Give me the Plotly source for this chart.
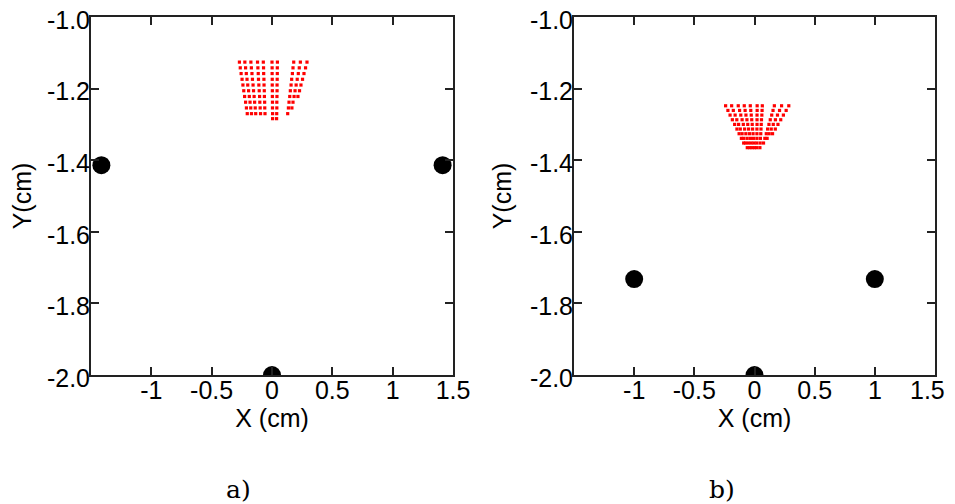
import plotly.graph_objects as go
from plotly.subplots import make_subplots

# ---------------- data (cm) ----------------
# fixed black markers
BLACK_A_X = [-1.414, 1.414, 0.0]
BLACK_A_Y = [-1.414, -1.414, -2.0]
BLACK_B_X = [-1.0, 1.0, 0.0]
BLACK_B_Y = [-1.732, -1.732, -2.0]

# panel a) red point cloud: row levels (y) and per-column x positions
ROWS_A = [-1.126, -1.142, -1.158, -1.174, -1.190, -1.206, -1.222, -1.238, -1.254, -1.270, -1.284]
COLS_A = [
    [-0.270, -0.263, -0.256, -0.248, -0.241, -0.234, -0.227, -0.219, -0.212, -0.205],
    [-0.225, -0.219, -0.213, -0.207, -0.201, -0.194, -0.188, -0.182, -0.176, -0.170],
    [-0.175, -0.171, -0.166, -0.162, -0.157, -0.153, -0.148, -0.144, -0.139, -0.135],
    [-0.120, -0.117, -0.114, -0.112, -0.109, -0.106, -0.103, -0.101, -0.098, -0.095],
    [-0.072, -0.070, -0.069, -0.067, -0.066, -0.064, -0.063, -0.061, -0.060, -0.058],
    [0.000, 0.001, 0.001, 0.002, 0.002, 0.003, 0.003, 0.004, 0.004, 0.005, 0.005],
    [0.045, 0.044, 0.044, 0.043, 0.042, 0.042, 0.041, 0.040, 0.040, 0.039, 0.038],
    [0.180, 0.174, 0.169, 0.163, 0.158, 0.152, 0.147, 0.141, 0.136, 0.130],
    [0.235, 0.226, 0.218, 0.209, 0.200, 0.191, 0.183, 0.174, 0.165],
    [0.290, 0.278, 0.265, 0.253, 0.240, 0.228, 0.215],
]

# panel b) red point cloud
ROWS_B = [-1.248, -1.261, -1.274, -1.287, -1.300, -1.313, -1.326, -1.339, -1.352, -1.365]
COLS_B = [
    [-0.240, -0.221, -0.203, -0.184, -0.165, -0.146, -0.128, -0.109, -0.090],
    [-0.190, -0.176, -0.161, -0.147, -0.132, -0.118, -0.103, -0.089, -0.074, -0.060],
    [-0.135, -0.124, -0.114, -0.103, -0.093, -0.082, -0.072, -0.061, -0.051, -0.040],
    [-0.085, -0.078, -0.071, -0.063, -0.056, -0.049, -0.042, -0.034, -0.027, -0.020],
    [-0.035, -0.031, -0.027, -0.023, -0.019, -0.016, -0.012, -0.008, -0.004, 0.000],
    [0.022, 0.022, 0.021, 0.021, 0.021, 0.020, 0.020, 0.020, 0.019, 0.019],
    [0.065, 0.063, 0.061, 0.058, 0.056, 0.054, 0.052, 0.049, 0.047, 0.045],
    [0.165, 0.154, 0.143, 0.131, 0.120, 0.109, 0.098, 0.086, 0.075],
    [0.225, 0.208, 0.191, 0.174, 0.156, 0.139, 0.122, 0.105],
    [0.285, 0.263, 0.240, 0.218, 0.195, 0.173, 0.150],
]

X_TICKS = [-1, -0.5, 0, 0.5, 1, 1.5]
X_TICKTEXT = ["-1", "-0.5", "0", "0.5", "1", "1.5"]
Y_TICKS = [-2.0, -1.8, -1.6, -1.4, -1.2, -1.0]
Y_TICKTEXT = ["-2.0", "-1.8", "-1.6", "-1.4", "-1.2", "-1.0"]
CAPTIONS = ["a)", "b)"]


def flatten(rows, cols):
    xs, ys = [], []
    for col in cols:
        xs.extend(col)
        ys.extend(rows[:len(col)])
    return xs, ys


RED_A_X, RED_A_Y = flatten(ROWS_A, COLS_A)
RED_B_X, RED_B_Y = flatten(ROWS_B, COLS_B)

# ---------------- figure ----------------
OFF = 8  # page body margin: figure is drawn 8px right/down of the window corner
W, H = 955 - 2 * OFF, 504 - OFF


def px_x(px):
    return (px - OFF) / W


def px_y(py):
    return (H - (py - OFF)) / H


fig = make_subplots(rows=1, cols=2)

panels = [
    (RED_A_X, RED_A_Y, BLACK_A_X, BLACK_A_Y),
    (RED_B_X, RED_B_Y, BLACK_B_X, BLACK_B_Y),
]
for i, (rx, ry, bx, by) in enumerate(panels, start=1):
    fig.add_trace(go.Scatter(x=rx, y=ry, mode="markers",
                             marker=dict(symbol="square", size=3.2, color="#ff0000",
                                         line=dict(width=0)),
                             showlegend=False, hoverinfo="skip"), row=1, col=i)
    fig.add_trace(go.Scatter(x=bx, y=by, mode="markers",
                             marker=dict(symbol="circle", size=18, color="#000000",
                                         line=dict(width=0)),
                             showlegend=False), row=1, col=i)

font_tick = dict(family="Liberation Sans", size=25, color="#000000")
# pixel layout of the two plot areas (window pixels)
x_domains = [(px_x(91), px_x(453)), (px_x(574), px_x(935))]
y_domain = (px_y(375), px_y(17))

for i in range(2):
    xa = "xaxis" if i == 0 else "xaxis2"
    ya = "yaxis" if i == 0 else "yaxis2"
    # the right panel's last label sits at the page edge; it is drawn as an annotation
    ttext = list(X_TICKTEXT) if i == 0 else X_TICKTEXT[:-1] + [""]
    fig.layout[xa].update(
        domain=x_domains[i], range=[-1.5, 1.5], tickvals=X_TICKS, ticktext=ttext,
        ticks="inside", ticklen=8, tickwidth=1.5, tickcolor="#222222",
        showline=True, linewidth=2, linecolor="#222222", mirror="ticks",
        showgrid=False, zeroline=False, tickfont=font_tick, automargin=False,
        ticklabeloverflow="allow", ticklabelstandoff=-8,
        title=dict(text="X (cm)", font=font_tick, standoff=4),
    )
    fig.layout[ya].update(
        domain=y_domain, range=[-2.0, -1.0], tickvals=Y_TICKS, ticktext=Y_TICKTEXT,
        ticks="inside", ticklen=8, tickwidth=1.5, tickcolor="#222222",
        showline=True, linewidth=2, linecolor="#222222", mirror="ticks",
        showgrid=False, zeroline=False, tickfont=font_tick, automargin=False,
        ticklabeloverflow="allow", ticklabelshift=3, ticklabelstandoff=-6,
        title=dict(text="Y(cm)", font=font_tick, standoff=11),
    )

# last x label of panel b, kept inside the visible page
fig.add_annotation(x=1.0, xref="x2 domain", xanchor="right", xshift=12,
                   y=px_y(390), yref="paper", yanchor="middle",
                   text=X_TICKTEXT[-1], showarrow=False, font=font_tick)

caption_x = [px_x(238), px_x(722)]
for cx, txt in zip(caption_x, CAPTIONS):
    fig.add_annotation(x=cx, y=px_y(489), xref="paper", yref="paper",
                       text=txt, showarrow=False,
                       font=dict(family="DejaVu Serif", size=25, color="#000000"),
                       xanchor="center", yanchor="middle")

fig.update_layout(
    width=W, height=H,
    margin=dict(l=0, r=0, t=0, b=0),
    paper_bgcolor="#ffffff", plot_bgcolor="#ffffff",
    showlegend=False,
)

fig.write_html("out.html")
